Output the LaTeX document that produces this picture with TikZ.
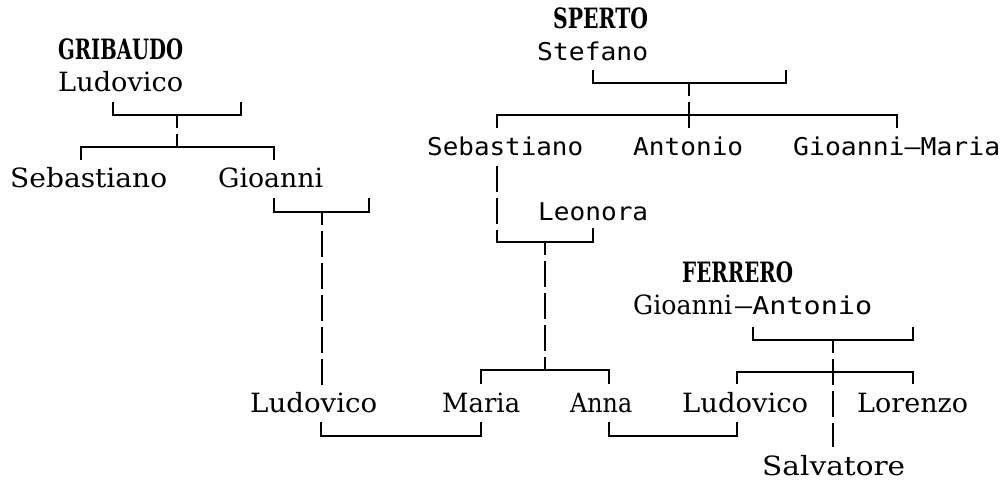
\documentclass[tikz,border=0pt]{standalone}
\usepackage{fontspec}
\usepackage{graphicx}
\newfontfamily\smono{DejaVu Sans Mono}
\newfontfamily\srf{DejaVu Serif}
\newcommand\fitw[2]{\resizebox{#1pt}{\height}{#2}}
\begin{document}
\begin{tikzpicture}[x=1pt,y=-1pt,
  nm/.style={inner sep=0pt, anchor=base west, font=\srf\fontsize{26.5}{30}\selectfont},
  sn/.style={inner sep=0pt, anchor=base west, font=\smono\fontsize{24.5}{28}\selectfont},
  bn/.style={inner sep=0pt, anchor=base west, font=\srf\bfseries\fontsize{28}{30}\selectfont},
  ln/.style={line width=1.7pt, line join=miter, line cap=butt},
  dl/.style={ln, dash pattern=on 26pt off 6pt, dash phase=13pt}]
\useasboundingbox[fill=white] (0,0) rectangle (1002,480);

% ---- names ----
\node[bn] (grib)  at (58,59)   {\fitw{125}{GRIBAUDO}};
\node[nm] (ludo1) at (58,91)   {\fitw{125}{Ludovico}};
\node[nm] (seb1)  at (10,187)  {\fitw{157}{Sebastiano}};
\node[nm] (gio1)  at (218,187) {\fitw{105}{Gioanni}};
\node[bn] (sper)  at (553,28)  {\fitw{95}{SPERTO}};
\node[sn] (stef)  at (537,60)  {\fitw{111}{Stefano}};
\node[sn] (seb2)  at (427,155) {\fitw{156}{Sebastiano}};
\node[sn] (anto)  at (633,155) {\fitw{110}{Antonio}};
\node[sn] (giom)  at (793,155) {\fitw{207}{Gioanni—Maria}};
\node[sn] (leon)  at (538,220) {\fitw{110}{Leonora}};
\node[nm] (ludo2) at (250,412) {\fitw{127}{Ludovico}};
\node[nm] (mari)  at (442,412) {\fitw{78}{Maria}};
\node[nm] (anna)  at (570,412) {\fitw{62}{Anna}};
\node[bn] (ferr)  at (682,282) {\fitw{111}{FERRERO}};
\node[nm] (gioa)  at (633,314) {\fitw{99}{Gioanni}};
\node[sn] (anto2) at (735,314) {\fitw{137}{—Antonio}};
\node[nm] (ludo3) at (682,412) {\fitw{126}{Ludovico}};
\node[nm] (lore)  at (857,412) {\fitw{111}{Lorenzo}};
\node[nm] (salv)  at (762,475) {\fitw{143}{Salvatore}};

% ---- coordinates ----
\coordinate (g1a) at (113,102); \coordinate (g1b) at (241,102);
\coordinate (g1m) at (177,115); \coordinate (g1c) at (177,147);
\coordinate (g2a) at (81,160);  \coordinate (g2b) at (274,160);
\coordinate (g3a) at (274,198); \coordinate (g3b) at (369,198);
\coordinate (g3m) at (322,212); \coordinate (g3e) at (322,385);
\coordinate (m1a) at (321,422); \coordinate (m1b) at (481,422);

\coordinate (s1a) at (593,70);  \coordinate (s1b) at (786,70);
\coordinate (s1m) at (689,83);  \coordinate (s1e) at (689,128);
\coordinate (s2a) at (497,128); \coordinate (s2b) at (897,128);
\coordinate (s2c) at (689,115);
\coordinate (sbt) at (497,165); \coordinate (sbd) at (497,224);
\coordinate (sbc) at (497,230); \coordinate (lnb) at (593,228);
\coordinate (lnm) at (545,242); \coordinate (lne) at (545,370);
\coordinate (c1a) at (481,384); \coordinate (c1b) at (609,384);
\coordinate (m2a) at (609,422); \coordinate (m2b) at (737,422);

\coordinate (f1a) at (753,327); \coordinate (f1b) at (913,327);
\coordinate (f1m) at (833,340); \coordinate (f1e) at (833,447);
\coordinate (f2a) at (737,384); \coordinate (f2b) at (913,384);
\coordinate (f2c) at (833,372);

% ---- Gribaudo ----
\draw[ln] (g1a) |- (g1m) -| (g1b);
\draw[dl] (g1m) -- (g1c);
\draw[ln] (g2a) |- (g1c) -| (g2b);
\draw[ln] (g3a) |- (g3m) -| (g3b);
\draw[dl] (g3m) -- (g3e);
\draw[ln] (m1a) |- (401,436) -| (m1b);

% ---- Sperto ----
\draw[ln] (s1a) |- (s1m) -| (s1b);
\draw[dl] (s1m) -- (s1e);
\draw[ln] (s2a) |- (s2c) -| (s2b);
\draw[dl, dash phase=0pt] (sbd) -- (sbt);
\draw[ln] (sbc) |- (lnm) -| (lnb);
\draw[dl] (lnm) -- (lne);
\draw[ln] (c1a) |- (lne) -| (c1b);
\draw[ln] (m2a) |- (673,436) -| (m2b);

% ---- Ferrero ----
\draw[ln] (f1a) |- (f1m) -| (f1b);
\draw[dl] (f1m) -- (f1e);
\draw[ln] (f2a) |- (f2c) -| (f2b);
\end{tikzpicture}
\end{document}
